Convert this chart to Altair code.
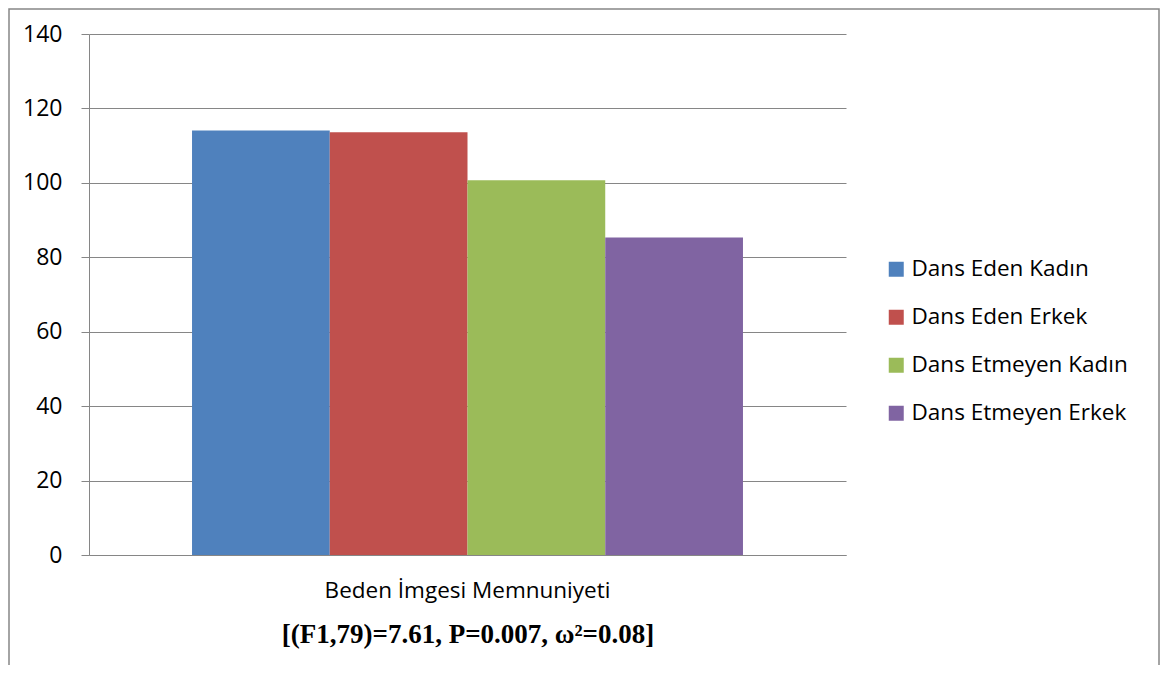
import altair as alt
import pandas as pd

kategori = ["Beden İmgesi Memnuniyeti"]
gruplar = ["Dans Eden Kadın", "Dans Eden Erkek", "Dans Etmeyen Kadın", "Dans Etmeyen Erkek"]
degerler = [114.1, 113.6, 100.7, 85.3]
renkler = ["#4F81BD", "#C0504D", "#9BBB59", "#8064A2"]
y_ticks = [0, 20, 40, 60, 80, 100, 120, 140]
alt_baslik = "[(F1,79)=7.61, P=0.007, ω²=0.08]"

df = pd.DataFrame({
    "kategori": kategori * len(gruplar),
    "grup": gruplar,
    "deger": degerler,
})

GRAY = "#868686"

bars = alt.Chart(df).mark_bar().encode(
    x=alt.X(
        "kategori:N",
        scale=alt.Scale(paddingInner=0, paddingOuter=0.187),
        axis=alt.Axis(
            title=alt_baslik,
            titleFont="Liberation Serif",
            titleFontWeight="bold",
            titleFontSize=27,
            titleColor="black",
            titlePadding=20,
            titleLimit=0,
            labelAngle=0,
            labelFont="Open Sans",
            labelFontSize=22.5,
            labelColor="black",
            labelPadding=24,
            labelLimit=0,
            ticks=False,
            domainColor=GRAY,
            domainWidth=1,
        ),
    ),
    xOffset=alt.XOffset("grup:N", sort=gruplar, scale=alt.Scale(paddingInner=0, paddingOuter=0)),
    y=alt.Y(
        "deger:Q",
        scale=alt.Scale(domain=[0, 140], nice=False),
        axis=alt.Axis(
            values=y_ticks,
            title=None,
            grid=True,
            gridColor=GRAY,
            gridWidth=1,
            domainColor=GRAY,
            tickColor=GRAY,
            tickSize=8,
            labelFont="Open Sans",
            labelFontSize=23,
            labelColor="black",
            labelPadding=19,
        ),
    ),
    color=alt.Color(
        "grup:N",
        sort=gruplar,
        scale=alt.Scale(domain=gruplar, range=renkler),
        legend=alt.Legend(
            title=None,
            orient="none",
            legendX=796,
            legendY=224,
            symbolType="square",
            symbolSize=225,
            symbolStrokeWidth=0,
            labelFont="Open Sans",
            labelFontSize=22.5,
            labelColor="black",
            labelOffset=4,
            labelLimit=0,
            rowPadding=25,
            padding=0,
        ),
    ),
)

frame = alt.Chart(pd.DataFrame({"k": [0]})).mark_rect(
    filled=False, stroke=GRAY, strokeWidth=1.5, clip=False
).encode(
    x=alt.value(-80), x2=alt.value(1070), y=alt.value(-25), y2=alt.value(700)
)

chart = alt.layer(frame, bars).properties(
    width=757,
    height=521,
    autosize=alt.AutoSizeParams(type="none"),
    padding={"left": 81, "top": 26, "right": 315, "bottom": 110},
).configure_view(stroke=None)

chart.save("out.html", embed_options={"renderer": "svg", "actions": False})
